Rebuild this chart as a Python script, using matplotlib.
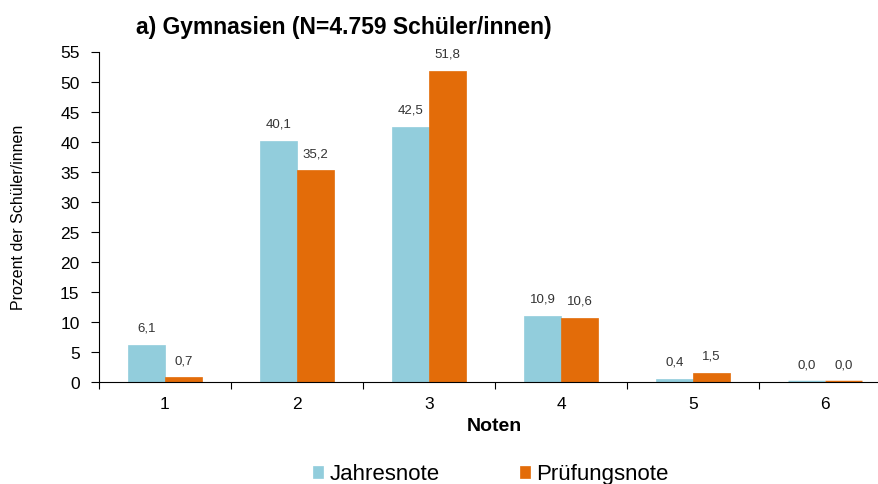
import numpy as np
import matplotlib.pyplot as plt

plt.rcParams['font.family'] = ['Liberation Sans', 'DejaVu Sans']

# Daten
noten = ['1', '2', '3', '4', '5', '6']
jahresnote = [6.1, 40.1, 42.5, 10.9, 0.4, 0.0]
pruefungsnote = [0.7, 35.2, 51.8, 10.6, 1.5, 0.0]
serien = ['Jahresnote', 'Prüfungsnote']
farben = ['#92CDDC', '#E36C09']

W, H = 879, 485
fig = plt.figure(figsize=(W / 100, H / 100), dpi=100)
# Achse reicht rechts etwas über den Bildrand hinaus (wie im Original)
ax = fig.add_axes([99 / W, 1 - 382.7 / H, 792 / W, 330.2 / H])

x = np.arange(len(noten))
w = 0.28
for i, (werte, name, farbe) in enumerate(zip([jahresnote, pruefungsnote], serien, farben)):
    pos = x + (i - 0.5) * w
    # Nullwerte als dünne Linie sichtbar lassen
    lw = [2.5 if v == 0 else 0.5 for v in werte]
    ax.bar(pos, werte, width=w, color=farbe, edgecolor=farbe, linewidth=lw, label=name,
           zorder=3)
    for p, v in zip(pos, werte):
        ax.annotate(f'{v:.1f}'.replace('.', ','), (p, v), xytext=(0, 12.5),
                    textcoords='offset points', ha='center', va='center',
                    fontsize=9.5, color='#333333')

ax.set_xlim(-0.5, len(noten) - 0.5)
ax.set_ylim(0, 55)
ax.set_yticks(range(0, 56, 5))
ax.set_xticks(x)
ax.set_xticklabels(noten)
ax.set_xticks(np.arange(-0.5, len(noten)), minor=True)
ax.tick_params(axis='x', which='major', length=0, labelsize=12.5, pad=10)
ax.tick_params(axis='x', which='minor', length=5, direction='out', width=0.8)
ax.tick_params(axis='y', length=6, direction='out', width=0.8, labelsize=12.5, pad=8)
ax.spines['top'].set_visible(False)
ax.spines['right'].set_visible(False)
ax.spines['left'].set_linewidth(0.8)
ax.spines['bottom'].set_linewidth(0.8)
ax.spines['bottom'].set_zorder(4)

fig.text(494 / W, 1 - 431 / H, 'Noten', ha='center', va='baseline',
         fontsize=14, fontweight='bold')
fig.text(19 / W, 1 - 217.6 / H, 'Prozent der Schüler/innen', rotation=90,
         ha='center', va='center', fontsize=11.5)

fig.text(343.5 / W, 1 - 34.3 / H, 'a) Gymnasien (N=4.759 Schüler/innen)', ha='center',
         va='baseline', fontsize=16.5, fontweight='bold')

fig.legend(loc='center', bbox_to_anchor=(491 / W, 1 - 475 / H), ncol=2, frameon=False,
           fontsize=16, handlelength=0.45, handleheight=0.45, handletextpad=0.3,
           columnspacing=3.6, borderpad=0)

plt.savefig('out.png', dpi=100)
